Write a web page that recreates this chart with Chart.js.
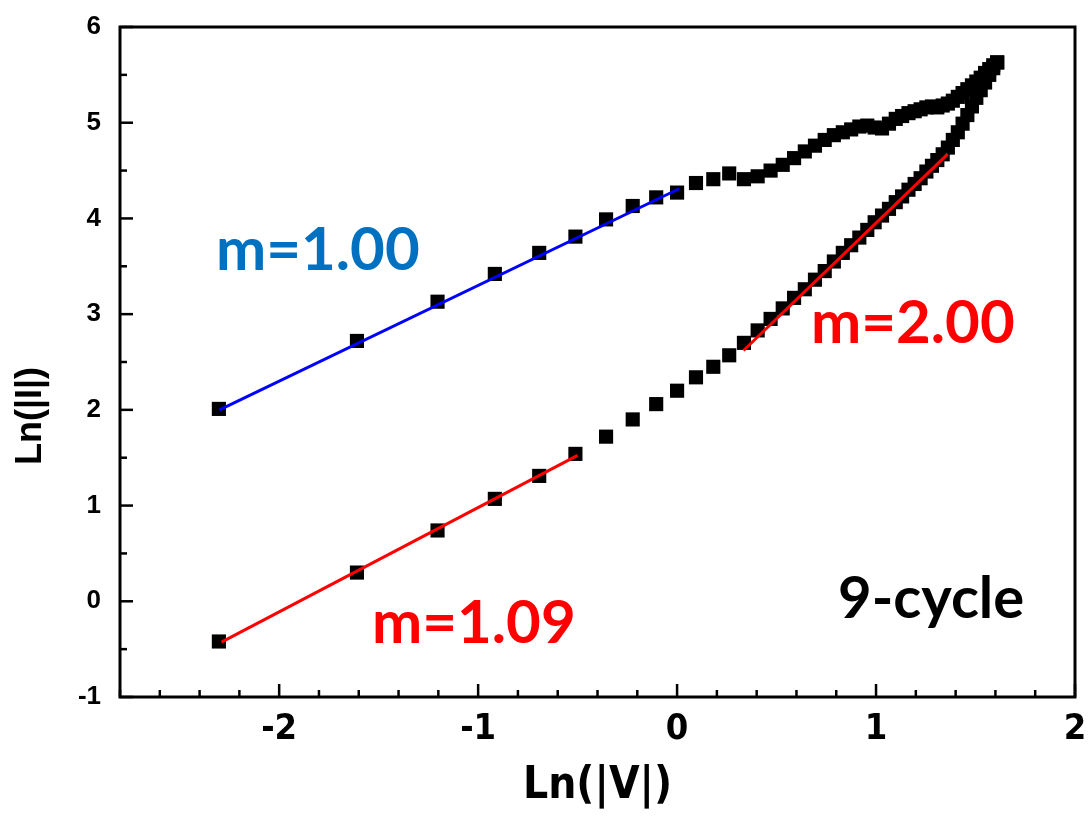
<!DOCTYPE html>
<html>
<head>
<meta charset="utf-8">
<title>Ln(|I|) vs Ln(|V|), 9-cycle</title>
<script src="https://cdn.jsdelivr.net/npm/chart.js@4.4.0/dist/chart.umd.min.js"></script>
<style>
  html, body { margin: 0; padding: 0; background: #ffffff; }
  #wrap { width: 1089px; height: 823px; position: relative; }
</style>
</head>
<body>
<div id="wrap"><canvas id="chart" width="1089" height="823"></canvas></div>
<script>
// ln(|V|) for the voltage sweep 0.1 V ... 5.0 V in 0.1 V steps
const lnV = [
  -2.303, -1.609, -1.204, -0.916, -0.693, -0.511, -0.357, -0.223, -0.105, 0.000,
   0.095,  0.182,  0.262,  0.336,  0.405,  0.470,  0.531,  0.588,  0.642, 0.693,
   0.742,  0.788,  0.833,  0.875,  0.916,  0.956,  0.993,  1.030,  1.065, 1.099,
   1.131,  1.163,  1.194,  1.224,  1.253,  1.281,  1.308,  1.335,  1.361, 1.386,
   1.411,  1.435,  1.459,  1.482,  1.504,  1.526,  1.548,  1.569,  1.589, 1.609
];

// ln(|I|) on the forward sweep (high-resistance branch)
const lnIForward = [
  -0.42, 0.30, 0.74, 1.07, 1.31, 1.54, 1.72, 1.90, 2.06, 2.20,
   2.34, 2.45, 2.57, 2.70, 2.83, 2.95, 3.06, 3.17, 3.26, 3.36,
   3.45, 3.55, 3.64, 3.72, 3.80, 3.88, 3.96, 4.03, 4.10, 4.17,
   4.23, 4.30, 4.36, 4.42, 4.49, 4.55, 4.61, 4.67, 4.74, 4.82,
   4.90, 4.99, 5.08, 5.17, 5.26, 5.34, 5.42, 5.50, 5.57, 5.63
];

// ln(|I|) on the reverse sweep (low-resistance branch), same voltages
const lnIReverse = [
  2.01, 2.72, 3.13, 3.42, 3.64, 3.81, 3.99, 4.13, 4.22, 4.27,
  4.37, 4.41, 4.47, 4.41, 4.44, 4.50, 4.56, 4.63, 4.70, 4.76,
  4.82, 4.87, 4.90, 4.93, 4.96, 4.97, 4.95, 4.94, 4.99, 5.04,
  5.07, 5.10, 5.12, 5.14, 5.16, 5.17, 5.16, 5.18, 5.20, 5.23,
  5.27, 5.31, 5.35, 5.39, 5.43, 5.47, 5.52, 5.56, 5.60, 5.63
];

// Linear fits ln(I) = m * ln(V) + b over the given ln(V) ranges
const fitSlopes     = [1.00, 1.09, 2.00];
const fitIntercepts = [4.30, 2.07, 1.952];
const fitFrom       = [-2.30, -2.29, 0.334];
const fitTo         = [0.01, -0.50, 1.36];

// Axis ranges and labelled ticks
const xRange = [-2.8, 2];
const yRange = [-1, 6];
const xTickLabels = ['-2', '-1', '0', '1', '2'];
const yTickLabels = ['-1', '0', '1', '2', '3', '4', '5', '6'];
const sampleName = '9-cycle';

// ---- presentation ----
const fitColors = ['#0000ff', '#ff0000', '#ff0000'];
const fitTextColors = ['#0070c0', '#ff0000', '#ff0000'];
const fitTextPos = [[216, 270], [372, 643], [811, 343]];   // canvas px, text baseline
const sampleTextPos = [838, 618];
const noteFont = 'bold 60px Lato, "Open Sans", sans-serif';
const sampleFont = 'bold 58px Lato, "Open Sans", sans-serif';
const narrowBold = '"Liberation Sans Narrow", "DejaVu Sans Condensed", "Liberation Sans", Arial, sans-serif';
const plainBold = '"Liberation Sans", Arial, sans-serif';

function isWhole(v) { return Math.abs(v - Math.round(v)) < 1e-6; }

const points = (ys) => lnV.map((x, i) => ({ x: x, y: ys[i] }));

const fitSets = fitSlopes.map((m, k) => ({
  type: 'line',
  label: 'm=' + m.toFixed(2),
  data: [
    { x: fitFrom[k], y: m * fitFrom[k] + fitIntercepts[k] },
    { x: fitTo[k],   y: m * fitTo[k]   + fitIntercepts[k] }
  ],
  borderColor: fitColors[k],
  borderWidth: 3,
  pointRadius: 0,
  showLine: true,
  fill: false,
  order: 0
}));

const markerStyle = {
  pointStyle: 'rect',
  pointRadius: 10,
  pointHoverRadius: 10,
  backgroundColor: '#000000',
  borderColor: '#000000',
  borderWidth: 0,
  showLine: false,
  order: 1
};

// Frame, inward tick marks, y title and text notes
const framePlugin = {
  id: 'frame',
  afterDraw(chart) {
    const ctx = chart.ctx;
    const a = chart.chartArea;
    const xs = chart.scales.x, ys = chart.scales.y;
    ctx.save();
    ctx.strokeStyle = '#000';
    ctx.lineCap = 'butt';

    ctx.lineWidth = 2.5;
    xs.ticks.forEach(t => {
      const px = xs.getPixelForValue(t.value);
      const len = isWhole(t.value) ? 13 : 7;
      ctx.beginPath();
      ctx.moveTo(px, a.bottom);
      ctx.lineTo(px, a.bottom - len);
      ctx.stroke();
    });
    ys.ticks.forEach(t => {
      const py = ys.getPixelForValue(t.value);
      const len = isWhole(t.value) ? 13 : 7;
      ctx.beginPath();
      ctx.moveTo(a.left, py);
      ctx.lineTo(a.left + len, py);
      ctx.stroke();
    });

    ctx.lineWidth = 3;
    ctx.lineJoin = 'miter';
    ctx.strokeRect(a.left, a.top, a.right - a.left, a.bottom - a.top);

    // y-axis title
    ctx.save();
    ctx.translate(31, 416);
    ctx.rotate(-Math.PI / 2);
    ctx.fillStyle = '#000';
    ctx.font = 'bold 36px ' + plainBold;
    ctx.textAlign = 'center';
    ctx.textBaseline = 'middle';
    ctx.fillText('Ln(|I|)', 0, 0);
    ctx.restore();

    // slope notes and sample name
    ctx.font = noteFont;
    ctx.textAlign = 'left';
    ctx.textBaseline = 'alphabetic';
    fitSlopes.forEach((m, k) => {
      ctx.fillStyle = fitTextColors[k];
      ctx.fillText('m=' + m.toFixed(2), fitTextPos[k][0], fitTextPos[k][1]);
    });
    ctx.fillStyle = '#000';
    ctx.font = sampleFont;
    ctx.fillText(sampleName, sampleTextPos[0], sampleTextPos[1]);
    ctx.restore();
  }
};

new Chart(document.getElementById('chart'), {
  type: 'scatter',
  data: {
    datasets: [
      ...fitSets,
      Object.assign({ label: 'forward', data: points(lnIForward) }, markerStyle),
      Object.assign({ label: 'reverse', data: points(lnIReverse) }, markerStyle)
    ]
  },
  options: {
    responsive: false,
    animation: false,
    events: [],
    layout: { padding: { top: 27, right: 14, left: 0, bottom: 0 } },
    plugins: { legend: { display: false }, tooltip: { enabled: false } },
    scales: {
      x: {
        type: 'linear',
        min: xRange[0], max: xRange[1],
        grid: { display: false, drawTicks: false },
        border: { display: false },
        ticks: {
          stepSize: 0.2,
          autoSkip: false,
          maxRotation: 0,
          padding: 11,
          color: '#000',
          font: { family: narrowBold, weight: 'bold', size: 36 },
          callback: (v) => isWhole(v) && xTickLabels.includes(String(Math.round(v))) ? String(Math.round(v)) : ''
        },
        title: {
          display: true,
          text: 'Ln(|V|)',
          color: '#000',
          font: { family: narrowBold, weight: 'bold', size: 44 },
          padding: { top: 0, bottom: 10 }
        },
        afterFit: (s) => { s.height = 126; s.paddingLeft = 0; s.paddingRight = 0; }
      },
      y: {
        type: 'linear',
        min: yRange[0], max: yRange[1],
        grid: { display: false, drawTicks: false },
        border: { display: false },
        ticks: {
          stepSize: 0.5,
          autoSkip: false,
          padding: 19,
          color: '#000',
          font: { family: plainBold, weight: 'bold', size: 26 },
          callback: (v) => isWhole(v) && yTickLabels.includes(String(Math.round(v))) ? String(Math.round(v)) : ''
        },
        afterFit: (s) => { s.width = 120; s.paddingTop = 0; s.paddingBottom = 0; }
      }
    }
  },
  plugins: [framePlugin]
});
</script>
</body>
</html>
